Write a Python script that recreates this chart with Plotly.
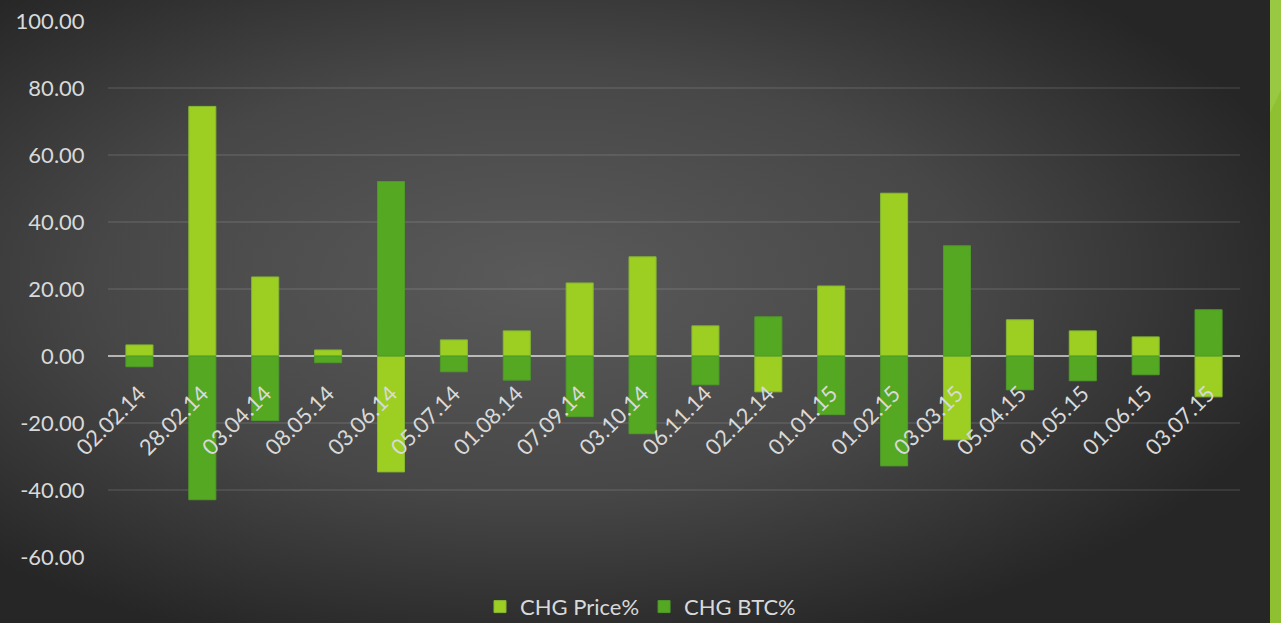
import base64
import plotly.graph_objects as go

# ---- data ----
dates = ["02.02.14", "28.02.14", "03.04.14", "08.05.14", "03.06.14", "05.07.14",
         "01.08.14", "07.09.14", "03.10.14", "06.11.14", "02.12.14", "01.01.15",
         "01.02.15", "03.03.15", "05.04.15", "01.05.15", "01.06.15", "03.07.15"]
chg_price = [3.3, 74.5, 23.6, 1.8, -34.6, 4.8, 7.5, 21.8, 29.6, 9.0, -10.7, 20.9,
             48.6, -25.0, 10.8, 7.5, 5.7, -12.2]
chg_btc = [-3.2, -42.9, -19.3, -2.0, 52.1, -4.7, -7.2, -18.1, -23.2, -8.6, 11.7, -17.5,
           -32.8, 32.9, -10.1, -7.4, -5.6, 13.8]
y_ticks = [-60, -40, -20, 0, 20, 40, 60, 80, 100]
y_tick_labels = [f"{v:.2f}" for v in y_ticks]

# ---- layout geometry ----
W, H = 1281, 623
ML, MR, MT, MB = 108, 41, 21, 66
PW, PH = W - ML - MR, H - MT - MB

svg = f'''<svg xmlns="http://www.w3.org/2000/svg" width="{W}" height="{H}" viewBox="0 0 {W} {H}" preserveAspectRatio="none">
<defs><radialGradient id="g" cx="0.42" cy="0.45" r="0.62">
<stop offset="0" stop-color="#5a5a5a"/><stop offset="0.55" stop-color="#474747"/><stop offset="1" stop-color="#262626"/>
</radialGradient></defs>
<rect x="0" y="0" width="{W}" height="{H}" fill="url(#g)"/>
<rect x="1270" y="0" width="11" height="{H}" fill="#8fc031"/>
<polygon points="1270,0 1281,0 1281,90 1270,113" fill="#99c843"/>
</svg>'''
bg_src = "data:image/svg+xml;base64," + base64.b64encode(svg.encode()).decode()

fig = go.Figure()
fig.add_trace(go.Bar(x=dates, y=chg_price, name="CHG Price%",
                     marker=dict(color="#9ccf22", line=dict(color="#86b832", width=1))))
fig.add_trace(go.Bar(x=dates, y=chg_btc, name="CHG BTC%",
                     marker=dict(color="#55a822", line=dict(color="#4f9a2a", width=1))))

zero_pos = (0 - y_ticks[0]) / (y_ticks[-1] - y_ticks[0])

fig.update_layout(
    width=W, height=H,
    margin=dict(l=ML, r=MR, t=MT, b=MB, autoexpand=False),
    paper_bgcolor="#3a3a3a",
    plot_bgcolor="rgba(0,0,0,0)",
    barmode="overlay",
    bargap=0.57,
    font=dict(family="Lato, 'Open Sans', sans-serif", size=22, color="#d9d9d9"),
    images=[dict(source=bg_src, xref="paper", yref="paper",
                 x=-ML / PW, y=1 + MT / PH, sizex=W / PW, sizey=H / PH,
                 xanchor="left", yanchor="top", sizing="stretch", layer="below")],
    xaxis=dict(type="category", anchor="free", position=zero_pos, automargin=False,
               tickangle=-45, showgrid=False, showline=False, zeroline=False,
               ticks="outside", ticklen=15, tickcolor="rgba(0,0,0,0)",
               tickfont=dict(size=22, color="#d9d9d9")),
    yaxis=dict(range=[y_ticks[0], y_ticks[-1]], tickvals=y_ticks, ticktext=y_tick_labels,
               automargin=False,
               showgrid=True, gridcolor="rgba(255,255,255,0.09)", gridwidth=2,
               zeroline=True, zerolinecolor="rgba(255,255,255,0.6)", zerolinewidth=2,
               showline=False, ticks="outside", ticklen=18, tickcolor="rgba(0,0,0,0)",
               tickfont=dict(size=22, color="#d9d9d9")),
    legend=dict(orientation="h", xref="container", yref="container", x=0.5, y=0.026,
                xanchor="center", yanchor="middle", font=dict(size=22, color="#d9d9d9"),
                bgcolor="rgba(0,0,0,0)", itemwidth=30),
    showlegend=True,
)

fig.write_html("out.html", config={"displayModeBar": False},
               post_script="document.body.style.margin='0';document.body.style.overflow='hidden';")
